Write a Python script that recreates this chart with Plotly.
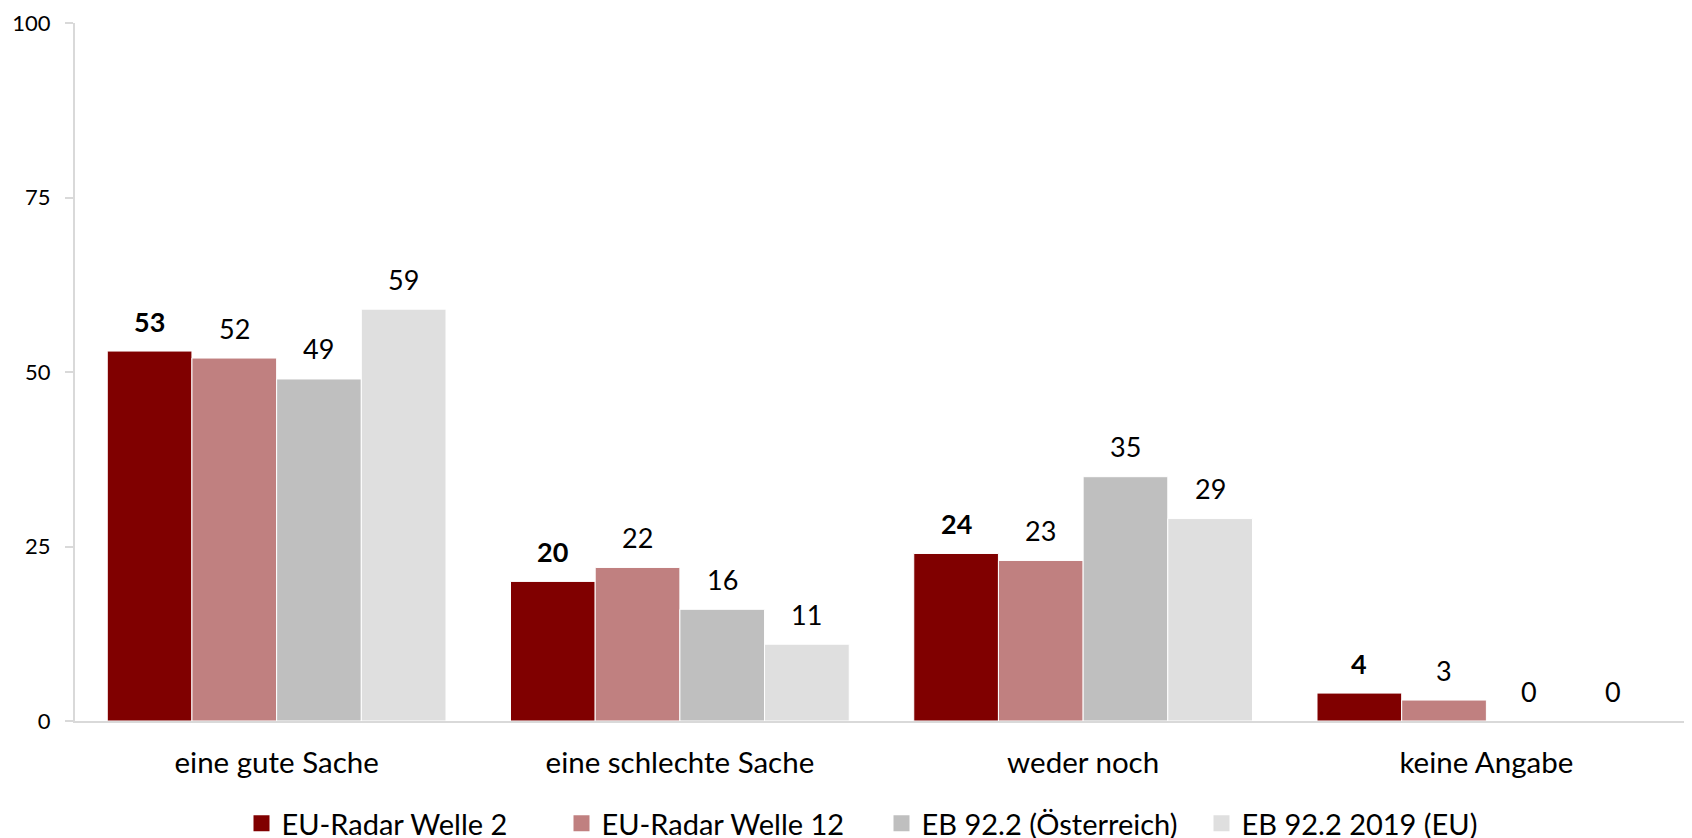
import plotly.graph_objects as go

categories = ["eine gute Sache", "eine schlechte Sache", "weder noch", "keine Angabe"]
series_names = ["EU-Radar Welle 2", "EU-Radar Welle 12", "EB 92.2 (Österreich)", "EB 92.2 2019 (EU)"]
welle2 = [53, 20, 24, 4]
welle12 = [52, 22, 23, 3]
eb_at = [49, 16, 35, 0]
eb_eu = [59, 11, 29, 0]
y_ticks = [0, 25, 50, 75, 100]

colors = ["#800000", "#C08080", "#BFBFBF", "#DFDFDF"]
all_values = [welle2, welle12, eb_at, eb_eu]

FONT = "Lato"
BARGAP = 0.16

fig = go.Figure()
for name, vals, col in zip(series_names, all_values, colors):
    fig.add_trace(go.Bar(
        x=categories, y=vals, name=name, showlegend=False,
        marker=dict(color=col, line=dict(color="white", width=1)),
    ))
# legend entries with larger square symbols
for name, col in zip(series_names, colors):
    fig.add_trace(go.Scatter(
        x=[None], y=[None], mode="markers", name=name, showlegend=True,
        marker=dict(symbol="square", size=17, color=col),
    ))

# data labels (above bars)
n = len(all_values)
bw = (1 - BARGAP) / n
for j, vals in enumerate(all_values):
    off = (j - (n - 1) / 2) * bw
    for i, v in enumerate(vals):
        txt = f"<b>{v}</b>" if j == 0 else f"{v}"
        fig.add_annotation(x=i + off, y=v, xref="x", yref="y", text=txt,
                           showarrow=False, yshift=30, yanchor="middle",
                           font=dict(family=FONT, size=27, color="#000000"))

fig.update_layout(
    barmode="group", bargap=BARGAP, bargroupgap=0,
    width=1692, height=838,
    margin=dict(l=67, r=12, t=15, b=125, autoexpand=False),
    paper_bgcolor="white", plot_bgcolor="white",
    font=dict(family=FONT, color="#000000"),
    legend=dict(orientation="h", x=0.5, xanchor="center", xref="paper",
                y=0.027, yanchor="middle", yref="container",
                font=dict(family=FONT, size=29), entrywidth=275, traceorder="normal"),
    showlegend=True,
)
fig.update_yaxes(range=[0, 100], tickvals=y_ticks, ticks="outside", ticklen=8,
                 tickcolor="#D9D9D9", tickwidth=2, showline=True, linecolor="#D9D9D9",
                 linewidth=2, showgrid=False, zeroline=False, automargin=False,
                 ticklabeloverflow="allow",
                 tickfont=dict(family=FONT, size=22), ticklabelstandoff=10)
fig.update_xaxes(showline=True, linecolor="#D9D9D9", linewidth=2, showgrid=False,
                 automargin=False, ticklabeloverflow="allow",
                 ticks="", tickfont=dict(family=FONT, size=29.5), ticklabelstandoff=15)

fig.write_html("out.html")
